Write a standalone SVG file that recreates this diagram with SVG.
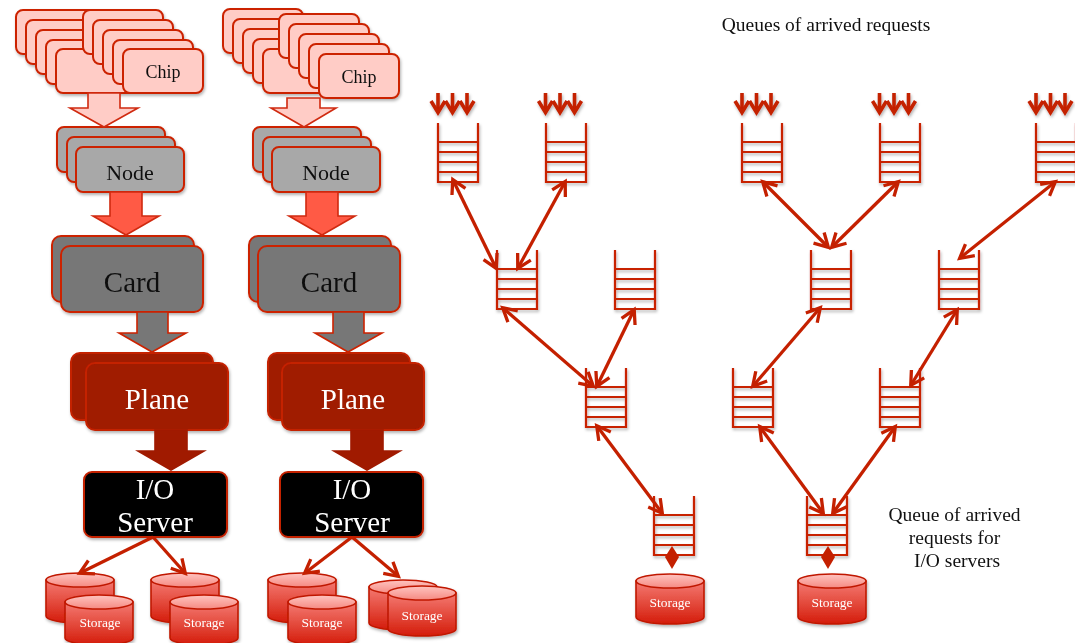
<svg xmlns="http://www.w3.org/2000/svg" xmlns:xlink="http://www.w3.org/1999/xlink" width="1075" height="643" viewBox="0 0 1075 643">
  <style>
    .txt { font-family: "Liberation Serif", "Times New Roman", serif; text-anchor: middle; }
    .chip { fill: #ffccc6; stroke: #cc2200; stroke-width: 2; }
    .node { fill: #a8a8a8; stroke: #cc2200; stroke-width: 2; }
    .card { fill: #777777; stroke: #cc2200; stroke-width: 2; }
    .plane { fill: #a01a00; stroke: #c42000; stroke-width: 2; }
    .io { fill: #000000; stroke: #c42000; stroke-width: 2; }
    .q { fill: none; stroke: #c82200; stroke-width: 2.2; }
    .link { fill: none; stroke: #c42000; stroke-width: 3.3; }
    .link2 { marker-start: url(#head); marker-end: url(#head); }
    .link1 { marker-end: url(#head); }
    .arrive { fill: none; stroke: #c42000; stroke-width: 3.6; marker-end: url(#headA); }
  </style>
  <defs>
    <filter id="sh" x="-20%" y="-20%" width="140%" height="150%">
      <feDropShadow dx="1" dy="2" stdDeviation="1.5" flood-color="#000" flood-opacity="0.3"/>
    </filter>
    <marker id="head" markerUnits="userSpaceOnUse" markerWidth="18" markerHeight="18" viewBox="0 0 18 18" refX="15" refY="9" orient="auto-start-reverse" overflow="visible">
      <path d="M2,1.5 L15.5,9 L2,16.5" fill="none" stroke="#c42000" stroke-width="3.3"/>
    </marker>
    <marker id="headA" markerUnits="userSpaceOnUse" markerWidth="18" markerHeight="18" viewBox="0 0 18 18" refX="14" refY="9" orient="auto" overflow="visible">
      <path d="M3,2 L14.5,9 L3,16" fill="none" stroke="#c42000" stroke-width="3.6"/>
    </marker>
    <linearGradient id="cylBody" x1="0" y1="0" x2="0" y2="1">
      <stop offset="0" stop-color="#f47a72"/>
      <stop offset="1" stop-color="#d41c0a"/>
    </linearGradient>
    <linearGradient id="cylTop" x1="0" y1="0" x2="0" y2="1">
      <stop offset="0" stop-color="#ffc4c0"/>
      <stop offset="1" stop-color="#f58a82"/>
    </linearGradient>
    <!-- storage cylinder, 68 x 50 -->
    <g id="cyl">
      <path d="M0,7 V43 A34,7 0 0 0 68,43 V7 Z" fill="url(#cylBody)" stroke="#c01800" stroke-width="1.6"/>
      <ellipse cx="34" cy="7" rx="34" ry="7" fill="url(#cylTop)" stroke="#c01800" stroke-width="1.6"/>
    </g>
    <!-- request queue: open top, five slots -->
    <g id="queue">
      <path class="q" d="M0,0 V59 H40 V0 M0,19 H40 M0,29 H40 M0,39 H40 M0,49 H40"/>
    </g>
    <!-- three incoming request arrows -->
    <g id="arrivals">
      <line class="arrive" x1="0" y1="93" x2="0" y2="112"/>
      <line class="arrive" x1="14.5" y1="93" x2="14.5" y2="112"/>
      <line class="arrive" x1="29" y1="93" x2="29" y2="112"/>
    </g>
  </defs>

  <rect width="1075" height="643" fill="#ffffff"/>

  <!-- ===== Hierarchy column 1 ===== -->
  <g id="chips1" filter="url(#sh)">
    <rect class="chip" x="16" y="10" width="80" height="44" rx="7"/>
    <rect class="chip" x="26" y="20" width="80" height="44" rx="7"/>
    <rect class="chip" x="36" y="30" width="80" height="44" rx="7"/>
    <rect class="chip" x="46" y="40" width="80" height="44" rx="7"/>
    <rect class="chip" x="56" y="49" width="80" height="44" rx="7"/>
    <rect class="chip" x="83" y="10" width="80" height="44" rx="7"/>
    <rect class="chip" x="93" y="20" width="80" height="44" rx="7"/>
    <rect class="chip" x="103" y="30" width="80" height="44" rx="7"/>
    <rect class="chip" x="113" y="40" width="80" height="44" rx="7"/>
    <rect class="chip" x="123" y="49" width="80" height="44" rx="7"/>
    <text class="txt" x="163" y="78" font-size="18" fill="#111">Chip</text>
  </g>
  <g id="nodes1" filter="url(#sh)">
    <rect class="node" x="57" y="127" width="108" height="45" rx="7"/>
    <rect class="node" x="67" y="137" width="108" height="45" rx="7"/>
    <rect class="node" x="76" y="147" width="108" height="45" rx="7"/>
    <text class="txt" x="130" y="180" font-size="22" fill="#111">Node</text>
  </g>
  <g id="cards1" filter="url(#sh)">
    <rect class="card" x="52" y="236" width="142" height="66" rx="9"/>
    <rect class="card" x="61" y="246" width="142" height="66" rx="9"/>
    <text class="txt" x="132" y="292" font-size="29" fill="#111">Card</text>
  </g>
  <g id="planes1" filter="url(#sh)">
    <rect class="plane" x="71" y="353" width="142" height="67" rx="9"/>
    <rect class="plane" x="86" y="363" width="142" height="67" rx="9"/>
    <text class="txt" x="157" y="409" font-size="29" fill="#fff">Plane</text>
  </g>
  <g id="io1" filter="url(#sh)">
    <rect class="io" x="84" y="472" width="143" height="65" rx="8"/>
    <text class="txt" x="155" y="499" font-size="29" fill="#fff">I/O</text>
    <text class="txt" x="155" y="532" font-size="29" fill="#fff">Server</text>
  </g>
  <g id="storage1" filter="url(#sh)">
    <use href="#cyl" x="46" y="573"/>
    <use href="#cyl" x="65" y="595"/>
    <text class="txt" x="100" y="627" font-size="13.5" fill="#fff">Storage</text>
    <use href="#cyl" x="151" y="573"/>
    <use href="#cyl" x="170" y="595"/>
    <text class="txt" x="204" y="627" font-size="13.5" fill="#fff">Storage</text>
  </g>

  <!-- ===== Hierarchy column 2 ===== -->
  <g id="chips2" filter="url(#sh)">
    <rect class="chip" x="223" y="9" width="80" height="44" rx="7"/>
    <rect class="chip" x="233" y="19" width="80" height="44" rx="7"/>
    <rect class="chip" x="243" y="29" width="80" height="44" rx="7"/>
    <rect class="chip" x="253" y="39" width="80" height="44" rx="7"/>
    <rect class="chip" x="263" y="49" width="80" height="44" rx="7"/>
    <rect class="chip" x="279" y="14" width="80" height="44" rx="7"/>
    <rect class="chip" x="289" y="24" width="80" height="44" rx="7"/>
    <rect class="chip" x="299" y="34" width="80" height="44" rx="7"/>
    <rect class="chip" x="309" y="44" width="80" height="44" rx="7"/>
    <rect class="chip" x="319" y="54" width="80" height="44" rx="7"/>
    <text class="txt" x="359" y="83" font-size="18" fill="#111">Chip</text>
  </g>
  <g id="nodes2" filter="url(#sh)">
    <rect class="node" x="253" y="127" width="108" height="45" rx="7"/>
    <rect class="node" x="263" y="137" width="108" height="45" rx="7"/>
    <rect class="node" x="272" y="147" width="108" height="45" rx="7"/>
    <text class="txt" x="326" y="180" font-size="22" fill="#111">Node</text>
  </g>
  <g id="cards2" filter="url(#sh)">
    <rect class="card" x="249" y="236" width="142" height="66" rx="9"/>
    <rect class="card" x="258" y="246" width="142" height="66" rx="9"/>
    <text class="txt" x="329" y="292" font-size="29" fill="#111">Card</text>
  </g>
  <g id="planes2" filter="url(#sh)">
    <rect class="plane" x="268" y="353" width="142" height="67" rx="9"/>
    <rect class="plane" x="282" y="363" width="142" height="67" rx="9"/>
    <text class="txt" x="353" y="409" font-size="29" fill="#fff">Plane</text>
  </g>
  <g id="io2" filter="url(#sh)">
    <rect class="io" x="280" y="472" width="143" height="65" rx="8"/>
    <text class="txt" x="352" y="499" font-size="29" fill="#fff">I/O</text>
    <text class="txt" x="352" y="532" font-size="29" fill="#fff">Server</text>
  </g>
  <g id="storage2" filter="url(#sh)">
    <use href="#cyl" x="268" y="573"/>
    <use href="#cyl" x="288" y="595"/>
    <text class="txt" x="322" y="627" font-size="13.5" fill="#fff">Storage</text>
    <use href="#cyl" x="369" y="580"/>
    <use href="#cyl" x="388" y="586"/>
    <text class="txt" x="422" y="620" font-size="13.5" fill="#fff">Storage</text>
  </g>

  <!-- ===== Block arrows between levels ===== -->
  <g id="level-arrows" stroke-width="1.6" stroke-linejoin="miter">
    <polygon points="88,93 120,93 120,108 138,108 104,127 70,108 88,108" fill="#ffccc6" stroke="#d02a10"/>
    <polygon points="110,192 142,192 142,216 159,216 126,235 93,216 110,216" fill="#ff5a45" stroke="#d02a10"/>
    <polygon points="137,312 168,312 168,333 186,333 152,352 119,333 137,333" fill="#777777" stroke="#cc2200"/>
    <polygon points="155,430 187,430 187,451 204,451 171,470 138,451 155,451" fill="#a01a00" stroke="#a01a00"/>

    <polygon points="287,98 320,98 320,108 336,108 304,127 271,108 287,108" fill="#ffccc6" stroke="#d02a10"/>
    <polygon points="306,192 338,192 338,216 355,216 322,235 289,216 306,216" fill="#ff5a45" stroke="#d02a10"/>
    <polygon points="333,312 364,312 364,333 382,333 348,352 315,333 333,333" fill="#777777" stroke="#cc2200"/>
    <polygon points="351,430 383,430 383,451 400,451 367,470 334,451 351,451" fill="#a01a00" stroke="#a01a00"/>
  </g>

  <!-- ===== Request queues ===== -->
  <g id="queues" filter="url(#sh)">
    <g id="q1"><use href="#queue" x="438" y="123"/><use href="#arrivals" x="438"/></g>
    <g id="q2"><use href="#queue" x="546" y="123"/><use href="#arrivals" x="545.5"/></g>
    <g id="q3"><use href="#queue" x="742" y="123"/><use href="#arrivals" x="742"/></g>
    <g id="q4"><use href="#queue" x="880" y="123"/><use href="#arrivals" x="879.5"/></g>
    <g id="q5"><use href="#queue" x="1036" y="123"/><use href="#arrivals" x="1036"/></g>
    <g id="qa"><use href="#queue" x="497" y="250"/></g>
    <g id="qb"><use href="#queue" x="615" y="250"/></g>
    <g id="qd"><use href="#queue" x="811" y="250"/></g>
    <g id="qe"><use href="#queue" x="939" y="250"/></g>
    <g id="qc"><use href="#queue" x="586" y="368"/></g>
    <g id="qf"><use href="#queue" x="733" y="368"/></g>
    <g id="qg"><use href="#queue" x="880" y="368"/></g>
    <g id="qh"><use href="#queue" x="654" y="496"/></g>
    <g id="qi"><use href="#queue" x="807" y="496"/></g>
  </g>
  <g id="io-storage" filter="url(#sh)">
    <g id="st-h">
      <use href="#cyl" x="636" y="574"/>
      <text class="txt" x="670" y="607" font-size="13.5" fill="#fff">Storage</text>
    </g>
    <g id="st-i">
      <use href="#cyl" x="798" y="574"/>
      <text class="txt" x="832" y="607" font-size="13.5" fill="#fff">Storage</text>
    </g>
  </g>

  <!-- ===== Connectors ===== -->
  <g id="connectors" class="link">
    <line class="link link1" x1="153" y1="537" x2="80" y2="573"/>
    <line class="link link1" x1="153" y1="537" x2="185" y2="573"/>
    <line class="link link1" x1="352" y1="537" x2="305" y2="573"/>
    <line class="link link1" x1="352" y1="537" x2="398" y2="576"/>

    <line class="link link2" x1="453" y1="180" x2="496" y2="268"/>
    <line class="link link2" x1="565" y1="182" x2="518" y2="268"/>
    <line class="link link2" x1="503" y1="308" x2="593" y2="386"/>
    <line class="link link2" x1="634" y1="310" x2="597" y2="386"/>
    <line class="link link2" x1="597" y1="426" x2="662" y2="513"/>
    <line class="link link2" x1="763" y1="182" x2="828" y2="247"/>
    <line class="link link2" x1="898" y1="182" x2="832" y2="247"/>
    <line class="link link2" x1="1055" y1="182" x2="960" y2="258"/>
    <line class="link link2" x1="820" y1="308" x2="753" y2="386"/>
    <line class="link link2" x1="957" y1="310" x2="911" y2="385"/>
    <line class="link link2" x1="760" y1="427" x2="823" y2="513"/>
    <line class="link link2" x1="895" y1="427" x2="833" y2="513"/>

    <!-- queue to storage exchange -->
    <polygon points="672,546 679,557 672,569 665,557" fill="#c42000" stroke="none"/>
    <polygon points="828,546 835,557 828,569 821,557" fill="#c42000" stroke="none"/>
  </g>

  <!-- ===== Labels ===== -->
  <text class="txt" x="826" y="31" font-size="19.5" fill="#111">Queues of arrived requests</text>
  <text class="txt" font-size="19.5" fill="#111">
    <tspan x="957" y="521">Queue of arrived</tspan>
    <tspan x="957" y="544">requests for</tspan>
    <tspan x="957" y="567">I/O servers</tspan>
  </text>
</svg>
